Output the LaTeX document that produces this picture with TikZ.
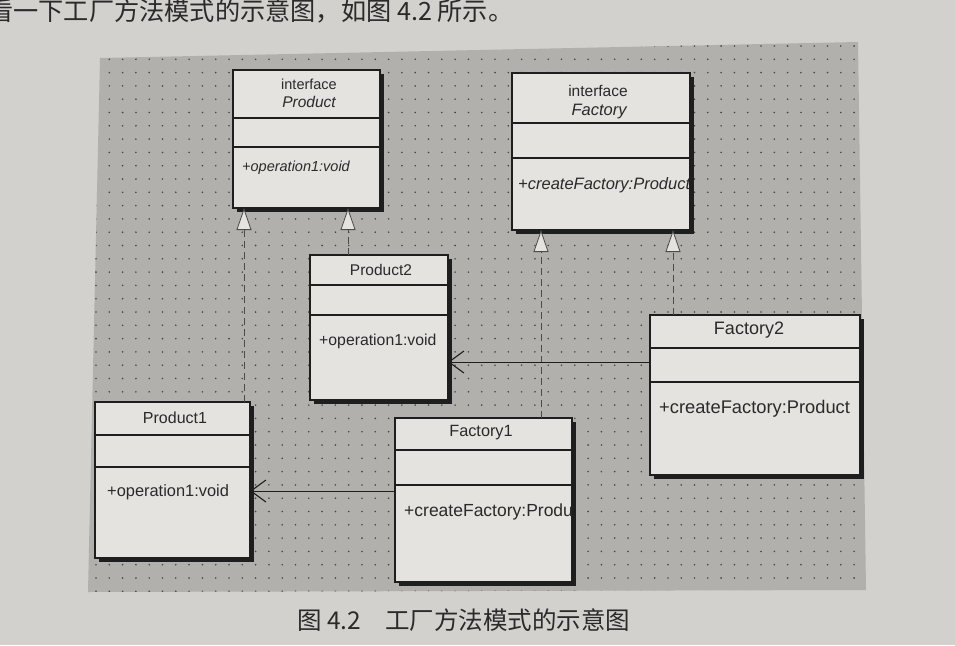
\documentclass[tikz,border=0pt]{standalone}
\usepackage{fontspec}
\setmainfont{Liberation Sans}
\newfontfamily\cjk{Noto Sans CJK SC}
\usetikzlibrary{arrows.meta,calc}
\definecolor{pagec}{HTML}{D3D1CD}
\definecolor{areac}{HTML}{B2B0AC}
\definecolor{boxc}{HTML}{E4E3E0}
\definecolor{inkc}{HTML}{1E1E1E}
\definecolor{dotc}{HTML}{4A4845}
\definecolor{textc}{HTML}{2A2A2A}
\tikzset{
  umlbox/.style={draw=inkc, line width=1.3pt, fill=boxc, inner sep=0pt, outer sep=0pt},
  divider/.style={draw=inkc, line width=1.1pt},
  shadowfill/.style={fill=inkc},
  clsname/.style={text=textc, inner sep=0pt},
  ifacetxt/.style={text=textc, inner sep=0pt},
  membtxt/.style={text=textc, inner sep=0pt, anchor=west},
  realize/.style={draw=inkc!80, line width=0.9pt, dash pattern=on 7pt off 4pt,
     -{Triangle[length=22pt,width=15pt,fill=boxc,line width=0.8pt]}},
  depend/.style={draw=inkc, line width=1pt, -{Straight Barb[length=15pt,width=22pt,line width=1.1pt]}},
  cjktxt/.style={text=textc, inner sep=0pt}
}
\newcommand\fsz[1]{\fontsize{#1}{#1}\selectfont}
\newcommand\umlcls[7]{%
  \fill[shadowfill] (#2+4,#3+4) rectangle ++(#4,#5);
  \node[umlbox, minimum width=#4pt, minimum height=#5pt, anchor=north west] (#1) at (#2,#3) {};
  \draw[divider] ([yshift=-#6pt]#1.north west) -- ([yshift=-#6pt]#1.north east);
  \draw[divider] ([yshift=-#7pt]#1.north west) -- ([yshift=-#7pt]#1.north east);
}
\begin{document}
\begin{tikzpicture}[x=1pt,y=-1pt]
\useasboundingbox (0,0) rectangle (955,645);
\fill[pagec] (0,0) rectangle (955,645);
% diagram area
\fill[areac] (100,58) -- (858,42) -- (866,590) -- (88,592) -- cycle;
\begin{scope}
  \clip (100,58) -- (858,42) -- (866,590) -- (88,592) -- cycle;
  \foreach \i in {0,...,58} {
    \foreach \j in {0,...,42} {
      \fill[dotc] (96+\i*13.3, 46+\j*13.3) circle (0.9pt);
    }
  }
\end{scope}
% top text line
\node[cjktxt, anchor=west, font=\cjk\fsz{25.2}] (topline) at (-12,11) {看一下工厂方法模式的示意图，如图 4.2 所示。};
% classes
\umlcls{prod}{233}{70}{147}{138}{48}{77}
\umlcls{fact}{512}{73}{178}{157}{50}{85}
\umlcls{prodb}{310}{255}{138}{145}{30}{60}
\umlcls{factb}{650}{315}{210}{160}{33}{67}
\umlcls{proda}{95}{402}{155}{156}{33}{65}
\umlcls{facta}{395}{418}{177}{164}{32}{67}
% texts
\node[clsname, font=\fsz{14.5}] (prod-st) at (309,84) {interface};
\node[ifacetxt, font=\fsz{15.5}\itshape] (prod-nm) at (309,102) {Product};
\node[membtxt, font=\fsz{14.5}\itshape] (prod-op) at (242,168) {+operation1:void};
\node[clsname, font=\fsz{15.5}] (fact-st) at (598,91) {interface};
\node[ifacetxt, font=\fsz{16.5}\itshape] (fact-nm) at (599,112) {Factory};
\begin{scope}
  \clip (fact.north west) rectangle (fact.south east);
  \node[membtxt, font=\fsz{16.5}\itshape] (fact-op) at (518,185) {+createFactory:Product};
\end{scope}
\node[clsname, font=\fsz{15.5}] (prodb-nm) at (381,270) {Product2};
\node[membtxt, font=\fsz{15.8}] (prodb-op) at (319,341) {+operation1:void};
\node[clsname, font=\fsz{18}] (factb-nm) at (749,330) {Factory2};
\node[membtxt, font=\fsz{18.3}] (factb-op) at (659,409) {+createFactory:Product};
\node[clsname, font=\fsz{16}] (proda-nm) at (175,418) {Product1};
\node[membtxt, font=\fsz{16.4}] (proda-op) at (107,492) {+operation1:void};
\node[clsname, font=\fsz{16.3}] (facta-nm) at (481,433) {Factory1};
\begin{scope}
  \clip (facta.north west) rectangle (facta.south east);
  \node[membtxt, font=\fsz{17.5}] (facta-op) at (404,512) {+createFactory:Product};
\end{scope}
% connectors
\coordinate (xa) at (244,0);
\coordinate (xb) at (348,0);
\coordinate (xc) at (541,0);
\coordinate (xd) at (673,0);
\coordinate (ya) at (0,491);
\coordinate (yb) at (0,362);
\draw[realize] (proda.north -| xa) -- (prod.south -| xa);
\draw[realize] (prodb.north -| xb) -- (prod.south -| xb);
\draw[realize] (facta.north -| xc) -- (fact.south -| xc);
\draw[realize] (factb.north -| xd) -- (fact.south -| xd);
\draw[depend] (factb.west |- yb) -- (prodb.east |- yb);
\draw[depend] (facta.west |- ya) -- (proda.east |- ya);
% caption
\node[cjktxt, font=\cjk\fsz{24.5}, anchor=west] (cap) at (297,620) {图 4.2\hspace{24pt}工厂方法模式的示意图};
\end{tikzpicture}
\end{document}
